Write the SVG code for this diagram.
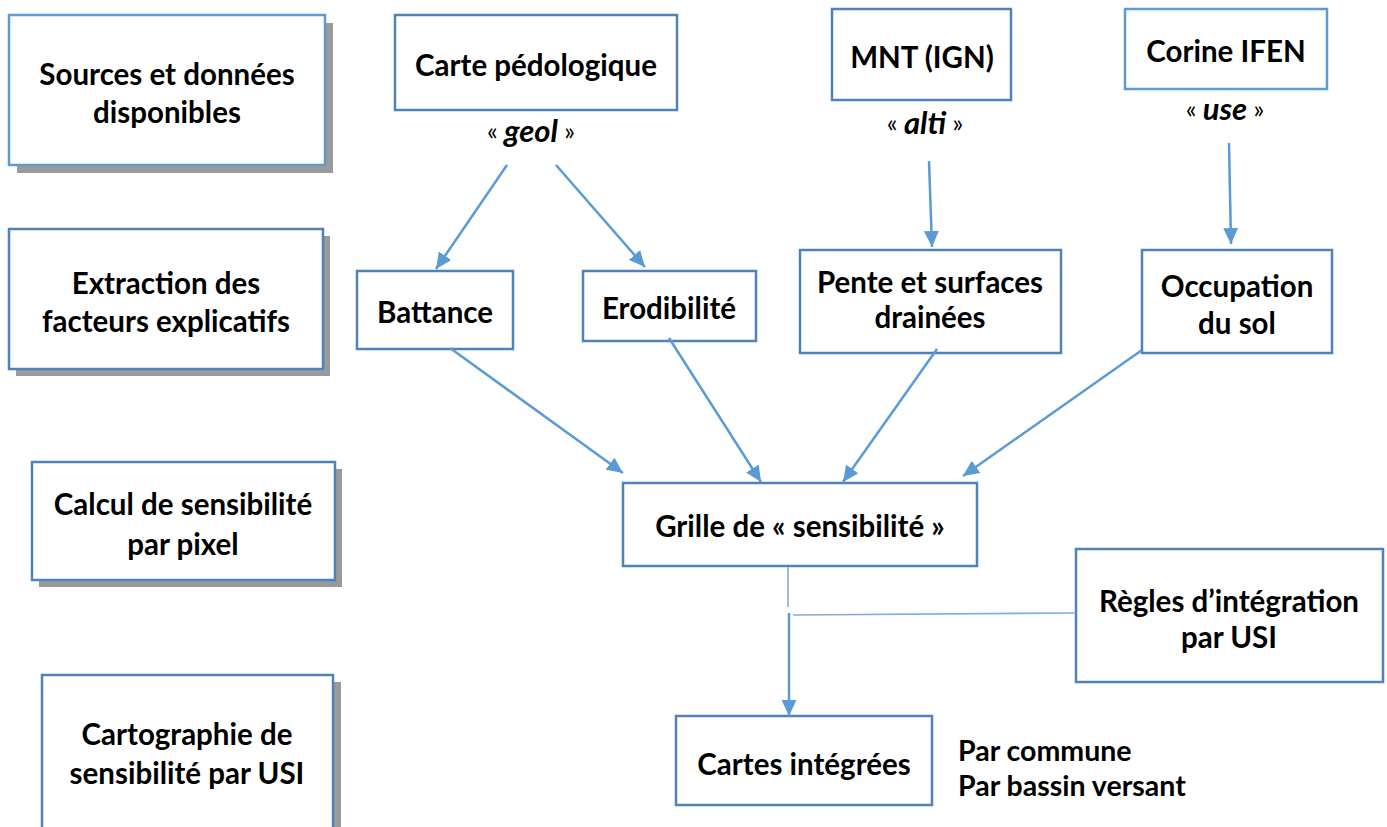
<svg xmlns="http://www.w3.org/2000/svg" width="1387" height="827" viewBox="0 0 1387 827">
<style>
.box{fill:#fff;stroke:#4F81BD;stroke-width:2.5}
.lbox{fill:#fff;stroke:#5B9BD5;stroke-width:2.5}
.sh{fill:#9a9a9a}
.t{font-family:Lato,"Open Sans",sans-serif;font-weight:bold;font-size:29.5px;fill:#000;text-anchor:middle;dominant-baseline:central}
.tl{font-family:Lato,"Open Sans",sans-serif;font-weight:bold;font-size:28.5px;fill:#000;dominant-baseline:central}
.q{font-size:31px}
.g{font-weight:normal;font-size:25px}
.i{font-style:italic}
.c{stroke:#5B9BD5;stroke-width:2.5;fill:none}
.ct{stroke:#7FAEDD;stroke-width:1.6;fill:none}
</style>
<defs>
<marker id="ah" markerUnits="userSpaceOnUse" markerWidth="17" markerHeight="15" refX="16" refY="7.5" orient="auto">
<path d="M0,0 L16,7.5 L0,15 z" fill="#5B9BD5"/>
</marker>
</defs>
<rect width="1387" height="827" fill="#fff"/>

<g id="sources">
<rect class="sh" x="17" y="23" width="316" height="150"/>
<rect class="lbox" x="9" y="15" width="316" height="150"/>
<text class="t" x="167" y="73">Sources et données</text>
<text class="t" x="167" y="111">disponibles</text>
</g>
<g id="extraction">
<rect class="sh" x="16" y="236" width="314" height="140"/>
<rect class="box" x="9" y="229" width="314" height="140"/>
<text class="t" x="166" y="282">Extraction des</text>
<text class="t" x="166" y="320">facteurs explicatifs</text>
</g>
<g id="calcul">
<rect class="sh" x="39" y="469" width="303" height="118"/>
<rect class="box" x="32" y="462" width="303" height="118"/>
<text class="t" x="183" y="503">Calcul de sensibilité</text>
<text class="t" x="183" y="543">par pixel</text>
</g>
<g id="cartographie">
<rect class="sh" x="49" y="682" width="292" height="160"/>
<rect class="box" x="42" y="675" width="291" height="160"/>
<text class="t" x="187" y="733">Cartographie de</text>
<text class="t" x="187" y="772">sensibilité par USI</text>
</g>

<g id="carte-pedo">
<rect class="box" x="395" y="15" width="282" height="95"/>
<text class="t" x="536" y="64">Carte pédologique</text>
<text class="t q" x="531" y="130"><tspan class="g">« </tspan><tspan class="i">geol</tspan><tspan class="g"> »</tspan></text>
</g>
<g id="mnt">
<rect class="box" x="832" y="9" width="179" height="91"/>
<text class="t" x="922" y="56">MNT (IGN)</text>
<text class="t q" x="925" y="122"><tspan class="g">« </tspan><tspan class="i">alti</tspan><tspan class="g"> »</tspan></text>
</g>
<g id="corine">
<rect class="lbox" x="1125" y="9" width="202" height="80"/>
<text class="t" x="1226" y="50">Corine IFEN</text>
<text class="t q" x="1225" y="108"><tspan class="g">« </tspan><tspan class="i">use</tspan><tspan class="g"> »</tspan></text>
</g>

<g id="battance">
<rect class="box" x="357" y="271" width="156" height="78"/>
<text class="t" x="435" y="311">Battance</text>
</g>
<g id="erodibilite">
<rect class="box" x="583" y="271" width="173" height="70"/>
<text class="t" x="669" y="307">Erodibilité</text>
</g>
<g id="pente">
<rect class="box" x="800" y="250" width="261" height="103"/>
<text class="t" x="930" y="281">Pente et surfaces</text>
<text class="t" x="930" y="316">drainées</text>
</g>
<g id="occupation">
<rect class="box" x="1142" y="250" width="190" height="103"/>
<text class="t" x="1237" y="285">Occupation</text>
<text class="t" x="1237" y="322">du sol</text>
</g>

<g id="grille">
<rect class="box" x="623" y="483" width="354" height="83"/>
<text class="t" x="800" y="525">Grille de « sensibilité »</text>
</g>
<g id="regles">
<rect class="box" x="1076" y="549" width="307" height="133"/>
<text class="t" x="1229" y="600">Règles d’intégration</text>
<text class="t" x="1229" y="636">par USI</text>
</g>
<g id="cartes">
<rect class="box" x="676" y="716" width="256" height="89"/>
<text class="t" x="804" y="763">Cartes intégrées</text>
</g>
<g id="note">
<text class="tl" x="958" y="750">Par commune</text>
<text class="tl" x="958" y="785">Par bassin versant</text>
</g>

<g id="connectors">
<line class="c" x1="507" y1="165" x2="436" y2="269" marker-end="url(#ah)"/>
<line class="c" x1="556" y1="165" x2="645" y2="267" marker-end="url(#ah)"/>
<line class="c" x1="929" y1="161" x2="932" y2="247" marker-end="url(#ah)"/>
<line class="c" x1="1229" y1="143" x2="1231" y2="244" marker-end="url(#ah)"/>
<line class="c" x1="450" y1="348" x2="623" y2="473" marker-end="url(#ah)"/>
<line class="c" x1="669" y1="338" x2="761" y2="482" marker-end="url(#ah)"/>
<line class="c" x1="937" y1="349" x2="843" y2="482" marker-end="url(#ah)"/>
<line class="c" x1="1142" y1="350" x2="963" y2="476" marker-end="url(#ah)"/>
<line class="ct" x1="788" y1="567" x2="788" y2="607"/>
<line class="c" x1="789" y1="613" x2="789" y2="716" marker-end="url(#ah)"/>
<line class="ct" x1="793" y1="615" x2="1076" y2="613"/>
</g>
</svg>
